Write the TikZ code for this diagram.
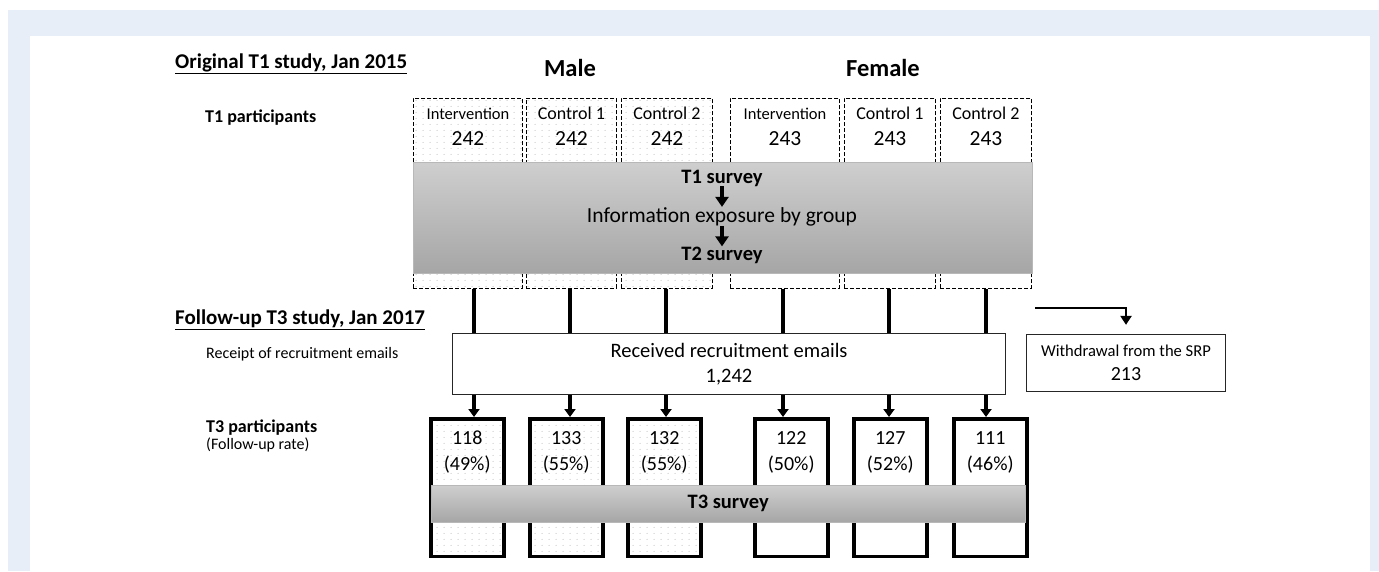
\documentclass[tikz,border=0pt]{standalone}
\usepackage{fontspec}
\setmainfont{Carlito}
\usepackage{xcolor}
\usetikzlibrary{positioning,calc,patterns.meta,arrows.meta}

\definecolor{pagebg}{HTML}{E7EEF8}

\tikzdeclarepattern{
  name=sparsedots,
  type=uncolored,
  bounding box={(0pt,0pt) and (7pt,6pt)},
  tile size={(7pt,6pt)},
  code={\fill (3.5pt,3pt) circle (0.55pt);}
}

\tikzset{
  txt/.style={inner sep=0pt},
  heading/.style={txt, anchor=base west, font=\fontsize{21}{25}\selectfont\bfseries},
  rowlbl/.style={txt, anchor=base west, font=\fontsize{18}{22}\selectfont\bfseries},
  sublbl/.style={txt, anchor=base west, font=\fontsize{16}{19}\selectfont},
  sexlbl/.style={txt, font=\fontsize{24.5}{28}\selectfont\bfseries},
  grplbl/.style={txt, anchor=base, font=\fontsize{16.5}{20}\selectfont},
  ctllbl/.style={txt, anchor=base, font=\fontsize{18}{22}\selectfont},
  numlbl/.style={txt, anchor=base, font=\fontsize{21.5}{25}\selectfont},
  cntlbl/.style={txt, anchor=base, font=\fontsize{20}{24}\selectfont},
  survey/.style={txt, anchor=base, font=\fontsize{20.5}{24}\selectfont\bfseries},
  t1box/.style={draw, line width=0.9pt, dash pattern=on 4pt off 2pt, anchor=north west, minimum height=190pt, inner sep=0pt},
  t3box/.style={draw, line width=3.5pt, anchor=north west, minimum width=73pt, minimum height=137.5pt, inner sep=0pt},
  dotfill/.style={pattern=sparsedots, pattern color=black!35},
  surveyband/.style={anchor=north west, inner sep=0pt, top color=black!19, bottom color=black!35, draw=black!28, line width=0.4pt},
  flowbox/.style={draw=black!85, line width=1.3pt, fill=white, align=center, inner sep=0pt},
  feedline/.style={line width=4pt},
  dnarrow/.style={line width=3.5pt, -{Triangle[length=8pt,width=11pt]}},
  stagearrow/.style={line width=4.5pt, -{Triangle[length=10pt,width=13pt]}},
  wdline/.style={line width=2.8pt, -{Triangle[length=9pt,width=11pt]}, shorten >=9pt}
}

\begin{document}
\begin{tikzpicture}[x=1pt, y=-1pt]
    % Page frame
    \useasboundingbox (0,0) rectangle (1379,571);
    \fill[white] (0,0) rectangle (1379,571);
    \fill[pagebg] (8,10) rectangle (1379,571);
    \fill[white] (30,36) rectangle (1370,571);

    % Original study
    \node[heading] (origHead) at (175,68) {\underline{Original T1 study, Jan 2015}};
    \node[sexlbl] (maleHead) at (570,68) {Male};
    \node[sexlbl] (femaleHead) at (883,68) {Female};
    \node[rowlbl] (t1Lbl) at (205,122) {T1 participants};

    % T1 groups
    \node[t1box, dotfill, minimum width=109pt] (t1m1) at (413,98) {};
    \node[t1box, dotfill, minimum width=90pt] (t1m2) at (526,98) {};
    \node[t1box, dotfill, minimum width=91pt] (t1m3) at (621,98) {};
    \node[t1box, minimum width=109pt] (t1f1) at (730,98) {};
    \node[t1box, minimum width=91pt] (t1f2) at (844,98) {};
    \node[t1box, minimum width=91pt] (t1f3) at (940,98) {};

    \node[grplbl] (t1m1g) at ($(t1m1.north)+(0,21)$) {Intervention};
    \node[numlbl] (t1m1n) at ($(t1m1.north)+(0,47)$) {242};
    \node[ctllbl] (t1m2g) at ($(t1m2.north)+(0,21)$) {Control 1};
    \node[numlbl] (t1m2n) at ($(t1m2.north)+(0,47)$) {242};
    \node[ctllbl] (t1m3g) at ($(t1m3.north)+(0,21)$) {Control 2};
    \node[numlbl] (t1m3n) at ($(t1m3.north)+(0,47)$) {242};
    \node[grplbl] (t1f1g) at ($(t1f1.north)+(0,21)$) {Intervention};
    \node[numlbl] (t1f1n) at ($(t1f1.north)+(0,47)$) {243};
    \node[ctllbl] (t1f2g) at ($(t1f2.north)+(0,21)$) {Control 1};
    \node[numlbl] (t1f2n) at ($(t1f2.north)+(0,47)$) {243};
    \node[ctllbl] (t1f3g) at ($(t1f3.north)+(0,21)$) {Control 2};
    \node[numlbl] (t1f3n) at ($(t1f3.north)+(0,47)$) {243};

    % T1/T2 survey band
    \node[surveyband, minimum width=619pt, minimum height=111pt] (t1band) at (413,162) {};
    \node[survey] (t1Srv) at (722,183) {T1 survey};
    \node[txt, anchor=base, font=\fontsize{21.5}{25}\selectfont] (expo) at (722,222) {Information exposure by group};
    \node[survey] (t2Srv) at (722,260) {T2 survey};
    \draw[stagearrow] (t1Srv.south) -- (expo.north);
    \draw[stagearrow] (expo.south) -- (t2Srv.north);

    % Follow-up study
    \node[heading] (followHead) at (175,324) {\underline{Follow-up T3 study, Jan 2017}};
    \node[sublbl] (mailLbl) at (206,358) {Receipt of recruitment emails};
    \node[rowlbl] (t3Lbl) at (206,432) {T3 participants};
    \node[sublbl] (rateLbl) at (206,449) {(Follow-up rate)};

    \node[flowbox, minimum width=553pt, minimum height=61pt, font=\fontsize{20.5}{25}\selectfont] (mail) at (729,364) {Received recruitment emails\\1,242};
    \node[flowbox, minimum width=199pt, minimum height=57pt, font=\fontsize{16.6}{24}\selectfont] (wd) at (1126,363) {Withdrawal from the SRP\\{\fontsize{20}{24}\selectfont 213}};
    \coordinate (wdStart) at (1035,308);
    \draw[wdline] (wdStart) -- (wdStart -| wd.north) -- (wd.north);

    % T3 groups
    \node[t3box, dotfill] (t3m1) at (429,417) {};
    \node[t3box, dotfill] (t3m2) at (528,417) {};
    \node[t3box, dotfill] (t3m3) at (626,417) {};
    \node[t3box] (t3f1) at (753,417) {};
    \node[t3box] (t3f2) at (852,417) {};
    \node[t3box] (t3f3) at (952,417) {};

    \node[cntlbl] (t3m1n) at ($(t3m1.north)+(0,27)$) {118};
    \node[cntlbl] (t3m1r) at ($(t3m1.north)+(0,53)$) {(49\%)};
    \node[cntlbl] (t3m2n) at ($(t3m2.north)+(0,27)$) {133};
    \node[cntlbl] (t3m2r) at ($(t3m2.north)+(0,53)$) {(55\%)};
    \node[cntlbl] (t3m3n) at ($(t3m3.north)+(0,27)$) {132};
    \node[cntlbl] (t3m3r) at ($(t3m3.north)+(0,53)$) {(55\%)};
    \node[cntlbl] (t3f1n) at ($(t3f1.north)+(0,27)$) {122};
    \node[cntlbl] (t3f1r) at ($(t3f1.north)+(0,53)$) {(50\%)};
    \node[cntlbl] (t3f2n) at ($(t3f2.north)+(0,27)$) {127};
    \node[cntlbl] (t3f2r) at ($(t3f2.north)+(0,53)$) {(52\%)};
    \node[cntlbl] (t3f3n) at ($(t3f3.north)+(0,27)$) {111};
    \node[cntlbl] (t3f3r) at ($(t3f3.north)+(0,53)$) {(46\%)};

    \node[surveyband, minimum width=594pt, minimum height=37pt, font=\fontsize{20.5}{24}\selectfont\bfseries] (t3band) at (431,485) {T3 survey};

    % Flow between the stages
    \coordinate (c1) at (474,0);
    \coordinate (c2) at (570,0);
    \coordinate (c3) at (666,0);
    \coordinate (c4) at (783,0);
    \coordinate (c5) at (889,0);
    \coordinate (c6) at (986,0);

    \draw[feedline] (c1 |- t1m1.south) -- (c1 |- mail.north);
    \draw[feedline] (c2 |- t1m2.south) -- (c2 |- mail.north);
    \draw[feedline] (c3 |- t1m3.south) -- (c3 |- mail.north);
    \draw[feedline] (c4 |- t1f1.south) -- (c4 |- mail.north);
    \draw[feedline] (c5 |- t1f2.south) -- (c5 |- mail.north);
    \draw[feedline] (c6 |- t1f3.south) -- (c6 |- mail.north);

    \draw[dnarrow] (c1 |- mail.south) -- (c1 |- t3m1.north);
    \draw[dnarrow] (c2 |- mail.south) -- (c2 |- t3m2.north);
    \draw[dnarrow] (c3 |- mail.south) -- (c3 |- t3m3.north);
    \draw[dnarrow] (c4 |- mail.south) -- (c4 |- t3f1.north);
    \draw[dnarrow] (c5 |- mail.south) -- (c5 |- t3f2.north);
    \draw[dnarrow] (c6 |- mail.south) -- (c6 |- t3f3.north);
\end{tikzpicture}
\end{document}
